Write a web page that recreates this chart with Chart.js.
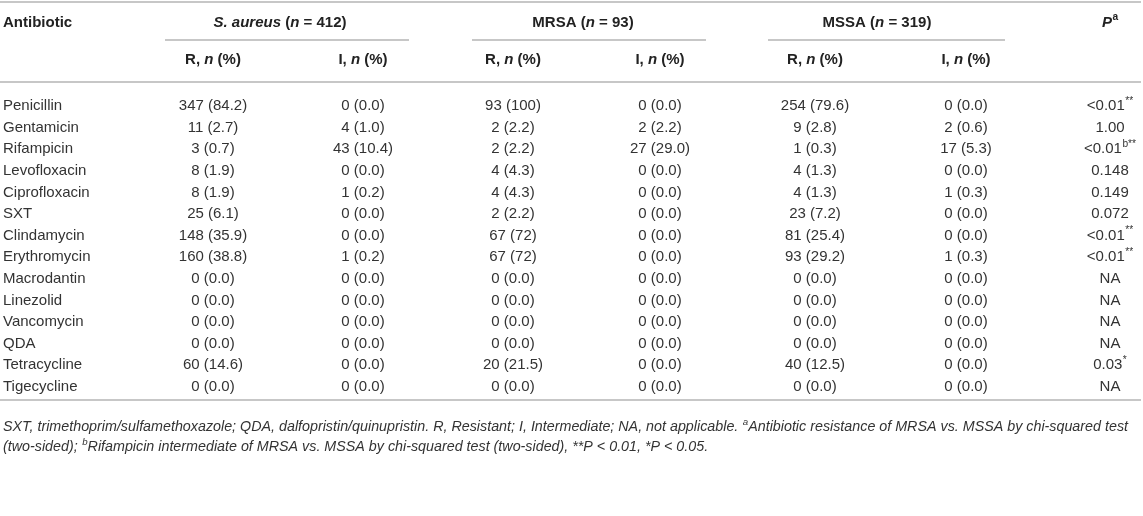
<!DOCTYPE html>
<html>
<head>
<meta charset="utf-8">
<script src="https://cdn.jsdelivr.net/npm/chart.js@4"></script>
<style>
  html, body { margin: 0; padding: 0; background: #ffffff; }
  #wrap { width: 1143px; height: 516px; }
</style>
</head>
<body>
<div id="wrap"><canvas id="c" width="1143" height="516"></canvas></div>
<script>
// ---------------- DATA ----------------
const antibiotics = ["Penicillin","Gentamicin","Rifampicin","Levofloxacin","Ciprofloxacin","SXT","Clindamycin","Erythromycin","Macrodantin","Linezolid","Vancomycin","QDA","Tetracycline","Tigecycline"];

const saR_n   = [347, 11, 3, 8, 8, 25, 148, 160, 0, 0, 0, 0, 60, 0];
const saR_pct = ["84.2","2.7","0.7","1.9","1.9","6.1","35.9","38.8","0.0","0.0","0.0","0.0","14.6","0.0"];
const saI_n   = [0, 4, 43, 0, 1, 0, 0, 1, 0, 0, 0, 0, 0, 0];
const saI_pct = ["0.0","1.0","10.4","0.0","0.2","0.0","0.0","0.2","0.0","0.0","0.0","0.0","0.0","0.0"];

const mrsaR_n   = [93, 2, 2, 4, 4, 2, 67, 67, 0, 0, 0, 0, 20, 0];
const mrsaR_pct = ["100","2.2","2.2","4.3","4.3","2.2","72","72","0.0","0.0","0.0","0.0","21.5","0.0"];
const mrsaI_n   = [0, 2, 27, 0, 0, 0, 0, 0, 0, 0, 0, 0, 0, 0];
const mrsaI_pct = ["0.0","2.2","29.0","0.0","0.0","0.0","0.0","0.0","0.0","0.0","0.0","0.0","0.0","0.0"];

const mssaR_n   = [254, 9, 1, 4, 4, 23, 81, 93, 0, 0, 0, 0, 40, 0];
const mssaR_pct = ["79.6","2.8","0.3","1.3","1.3","7.2","25.4","29.2","0.0","0.0","0.0","0.0","12.5","0.0"];
const mssaI_n   = [0, 2, 17, 0, 1, 0, 0, 1, 0, 0, 0, 0, 0, 0];
const mssaI_pct = ["0.0","0.6","5.3","0.0","0.3","0.0","0.0","0.3","0.0","0.0","0.0","0.0","0.0","0.0"];

const pMain = ["<0.01","1.00","<0.01","0.148","0.149","0.072","<0.01","<0.01","NA","NA","NA","NA","0.03","NA"];
const pSup  = ["**","","b**","","","","**","**","","","","","*",""];

const groupLabels = [["S. aureus", 412], ["MRSA", 93], ["MSSA", 319]];

// ---------------- LAYOUT / STYLE ----------------
const FONT = '"Liberation Sans", Arial, Helvetica, sans-serif';
const TEXT = '#333333';
const HEAD = '#222222';
const RULE = '#b5b5b5';
const colX = [213, 363, 513, 660, 815, 966, 1110];   // column centres (x-scale units)
const groupSpan = [[165, 409], [472, 706], [768, 1005]];
const groupHeadX = [280, 583, 877];
const yHead1 = 22.5, yHead2 = 59.5;
const yRuleTop = 2, yRuleGroup = 40, yRuleHead = 82, yRuleBottom = 400;
const yFoot1 = 427.5, yFoot2 = 447.5;
const footJustifyRight = 1128;
const FOOT_SIZE = 14.3;

function fmt(n, p) { return n + ' (' + p + ')'; }

const columns = [
  antibiotics.map((_, i) => fmt(saR_n[i], saR_pct[i])),
  antibiotics.map((_, i) => fmt(saI_n[i], saI_pct[i])),
  antibiotics.map((_, i) => fmt(mrsaR_n[i], mrsaR_pct[i])),
  antibiotics.map((_, i) => fmt(mrsaI_n[i], mrsaI_pct[i])),
  antibiotics.map((_, i) => fmt(mssaR_n[i], mssaR_pct[i])),
  antibiotics.map((_, i) => fmt(mssaI_n[i], mssaI_pct[i])),
  pMain
];

function fontStr(size, b, i) {
  return (i ? 'italic ' : '') + (b ? 'bold ' : '') + size + 'px ' + FONT;
}
function measureRuns(ctx, runs, size) {
  let w = 0;
  runs.forEach(r => {
    const o = r[1] || {};
    const s = o.sup ? size * 0.68 : size;
    ctx.font = fontStr(s, o.b, o.i);
    w += ctx.measureText(r[0]).width + (o.sup ? 0.5 : 0);
  });
  return w;
}
function drawRuns(ctx, runs, x, y, size, color, align, justifyTo) {
  const w = measureRuns(ctx, runs, size);
  let extra = 0;
  if (justifyTo) {
    const nSpaces = runs.reduce((a, r) => a + (r[0].match(/ /g) || []).length, 0);
    extra = nSpaces ? (justifyTo - x - w) / nSpaces : 0;
  }
  let cx = align === 'center' ? x - w / 2 : (align === 'right' ? x - w : x);
  ctx.fillStyle = color;
  ctx.textBaseline = 'middle';
  ctx.textAlign = 'left';
  runs.forEach(r => {
    const o = r[1] || {};
    const s = o.sup ? size * 0.68 : size;
    ctx.font = fontStr(s, o.b, o.i);
    const yy = o.sup ? y - size * 0.33 : y;
    if (o.sup) cx += 0.5;
    if (extra) {
      const parts = r[0].split(' ');
      const sp = ctx.measureText(' ').width;
      parts.forEach((p, k) => {
        ctx.fillText(p, cx, yy);
        cx += ctx.measureText(p).width;
        if (k < parts.length - 1) cx += sp + extra;
      });
    } else {
      ctx.fillText(r[0], cx, yy);
      cx += ctx.measureText(r[0]).width;
    }
  });
}
function hline(ctx, x1, x2, y, w) {
  ctx.save();
  ctx.strokeStyle = RULE;
  ctx.lineWidth = w;
  ctx.beginPath();
  ctx.moveTo(x1, y);
  ctx.lineTo(x2, y);
  ctx.stroke();
  ctx.restore();
}

const tablePlugin = {
  id: 'tablePlugin',
  afterDraw(chart) {
    const ctx = chart.ctx;
    const xs = chart.scales.x;
    ctx.save();
    // rules
    hline(ctx, 0, 1141, yRuleTop, 1.6);
    groupSpan.forEach(s => hline(ctx, xs.getPixelForValue(s[0]), xs.getPixelForValue(s[1]), yRuleGroup, 1.4));
    hline(ctx, 0, 1141, yRuleHead, 1.6);
    hline(ctx, 0, 1141, yRuleBottom, 1.6);

    // headers
    drawRuns(ctx, [["Antibiotic", {b: true}]], 3, yHead1, 15, HEAD, 'left');
    groupLabels.forEach((g, k) => {
      const runs = g[0] === "S. aureus"
        ? [["S. aureus", {b: true, i: true}], [" (", {b: true}], ["n", {b: true, i: true}], [" = " + g[1] + ")", {b: true}]]
        : [[g[0] + " (", {b: true}], ["n", {b: true, i: true}], [" = " + g[1] + ")", {b: true}]];
      drawRuns(ctx, runs, xs.getPixelForValue(groupHeadX[k]), yHead1, 15, HEAD, 'center');
    });
    for (let c = 0; c < 6; c++) {
      const lead = c % 2 === 0 ? "R, " : "I, ";
      drawRuns(ctx, [[lead, {b: true}], ["n", {b: true, i: true}], [" (%)", {b: true}]],
        xs.getPixelForValue(colX[c]), yHead2, 15, HEAD, 'center');
    }
    drawRuns(ctx, [["P", {b: true, i: true}], ["a", {b: true, sup: true}]],
      xs.getPixelForValue(colX[6]), yHead1, 15, HEAD, 'center');

    // cells (positions from the library's scales via dataset metas)
    chart.data.datasets.forEach((ds, di) => {
      const meta = chart.getDatasetMeta(di);
      meta.data.forEach((pt, i) => {
        if (di === 0) {
          drawRuns(ctx, [[antibiotics[i]]], 3, pt.y, 15, TEXT, 'left');
        }
        if (di < 6) {
          drawRuns(ctx, [[columns[di][i]]], pt.x, pt.y, 15, TEXT, 'center');
        } else {
          const runs = [[pMain[i]]];
          if (pSup[i]) runs.push([pSup[i], {sup: true}]);
          drawRuns(ctx, runs, pt.x, pt.y, 15, TEXT, 'center');
        }
      });
    });

    // footnote
    drawRuns(ctx, [
      ["SXT, trimethoprim/sulfamethoxazole; QDA, dalfopristin/quinupristin. R, Resistant; I, Intermediate; NA, not applicable. ", {i: true}],
      ["a", {i: true, sup: true}],
      ["Antibiotic resistance of MRSA vs. MSSA by chi-squared test", {i: true}]
    ], 3, yFoot1, FOOT_SIZE, TEXT, 'left', footJustifyRight);
    drawRuns(ctx, [
      ["(two-sided); ", {i: true}],
      ["b", {i: true, sup: true}],
      ["Rifampicin intermediate of MRSA vs. MSSA by chi-squared test (two-sided), **P < 0.01, *P < 0.05.", {i: true}]
    ], 3, yFoot2, FOOT_SIZE, TEXT, 'left');
    ctx.restore();
  }
};

const datasets = columns.map((col, c) => ({
  label: 'col' + c,
  data: antibiotics.map(a => ({x: colX[c], y: a})),
  pointRadius: 0,
  pointHoverRadius: 0,
  showLine: false
}));

new Chart(document.getElementById('c'), {
  type: 'scatter',
  data: { datasets },
  options: {
    responsive: false,
    animation: false,
    devicePixelRatio: 1,
    events: [],
    layout: { padding: { left: 0, right: 0, top: 95.2, bottom: 516 - 397.6 } },
    plugins: { legend: { display: false }, tooltip: { enabled: false } },
    scales: {
      x: { type: 'linear', min: 0, max: 1143, display: false },
      y: { type: 'category', labels: antibiotics, offset: true, display: false }
    }
  },
  plugins: [tablePlugin]
});
</script>
</body>
</html>
